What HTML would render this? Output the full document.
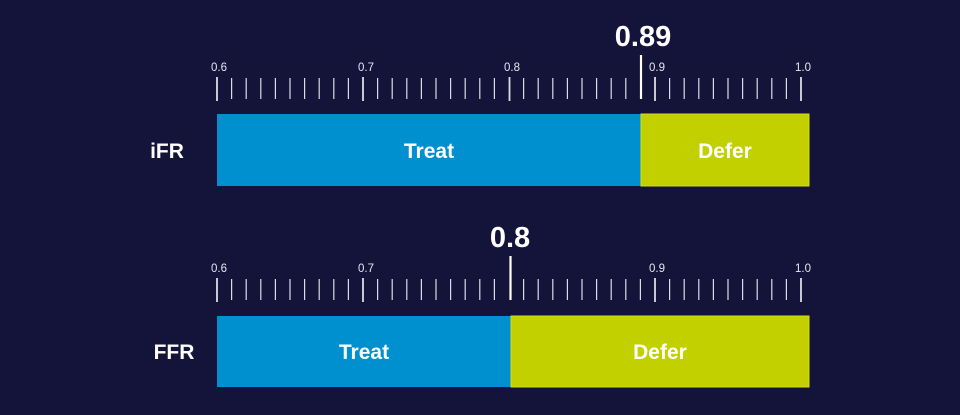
<!DOCTYPE html>
<html><head><style>
body{margin:0;background:#14133a;width:960px;height:410px;overflow:hidden;font-family:"Liberation Sans",sans-serif}
</style></head><body>
<svg width="960" height="410" xmlns="http://www.w3.org/2000/svg">
<rect width="960" height="410" fill="#14133a"/>
<g stroke="#dcdce6" stroke-width="1.2" fill="none">
<path d="M231.6 78V99M246.2 78V99M260.8 78V99M275.4 78V99M290 78V99M304.6 78V99M319.2 78V99M333.8 78V99M348.4 78V99M377.6 78V99M392.2 78V99M406.8 78V99M421.4 78V99M436 78V99M450.6 78V99M465.2 78V99M479.8 78V99M494.4 78V99M523.6 78V99M538.2 78V99M552.8 78V99M567.4 78V99M582 78V99M596.6 78V99M611.2 78V99M625.8 78V99M669.6 78V99M684.2 78V99M698.8 78V99M713.4 78V99M728 78V99M742.6 78V99M757.2 78V99M771.8 78V99M786.4 78V99"/>
<path d="M231.6 279V300M246.2 279V300M260.8 279V300M275.4 279V300M290 279V300M304.6 279V300M319.2 279V300M333.8 279V300M348.4 279V300M377.6 279V300M392.2 279V300M406.8 279V300M421.4 279V300M436 279V300M450.6 279V300M465.2 279V300M479.8 279V300M494.4 279V300M523.6 279V300M538.2 279V300M552.8 279V300M567.4 279V300M582 279V300M596.6 279V300M611.2 279V300M625.8 279V300M640.4 279V300M669.6 279V300M684.2 279V300M698.8 279V300M713.4 279V300M728 279V300M742.6 279V300M757.2 279V300M771.8 279V300M786.4 279V300"/>
<path stroke-width="1.8" d="M217 77V101M363 77V101M509.5 77V101M655 77V101M801 77V101M217 278V302M363 278V302M655 278V302M801 278V302"/>
</g>
<g fill="#e6e6ee" font-size="11.5">
<text x="211" y="71">0.6</text><text x="358" y="71">0.7</text><text x="504" y="71">0.8</text><text x="649" y="71">0.9</text><text x="795" y="71">1.0</text>
<text x="211" y="272">0.6</text><text x="358" y="272">0.7</text><text x="649" y="272">0.9</text><text x="795" y="272">1.0</text>
</g>
<line x1="641" x2="641" y1="55" y2="99" stroke="#fff" stroke-width="2.2"/>
<line x1="510.5" x2="510.5" y1="256" y2="300" stroke="#fff" stroke-width="2.2"/>
<text x="643" y="46" fill="#fff" font-size="29" font-weight="bold" text-anchor="middle">0.89</text>
<text x="510" y="247" fill="#fff" font-size="29" font-weight="bold" text-anchor="middle">0.8</text>
<rect x="217" y="114" width="424" height="72" fill="#0090d0"/>
<rect x="641" y="114" width="168" height="72" fill="#c3d000" stroke="#d4dc10" stroke-width="1"/>
<rect x="217" y="316" width="294" height="71" fill="#0090d0"/>
<rect x="511" y="316" width="298" height="71" fill="#c3d000" stroke="#d4dc10" stroke-width="1"/>
<g fill="#fff" font-size="21" font-weight="bold" text-anchor="middle">
<text x="429" y="158">Treat</text><text x="725" y="158">Defer</text>
<text x="364" y="359">Treat</text><text x="660" y="359">Defer</text>
<text x="167" y="158">iFR</text><text x="174" y="359">FFR</text>
</g>
</svg>
</body></html>
